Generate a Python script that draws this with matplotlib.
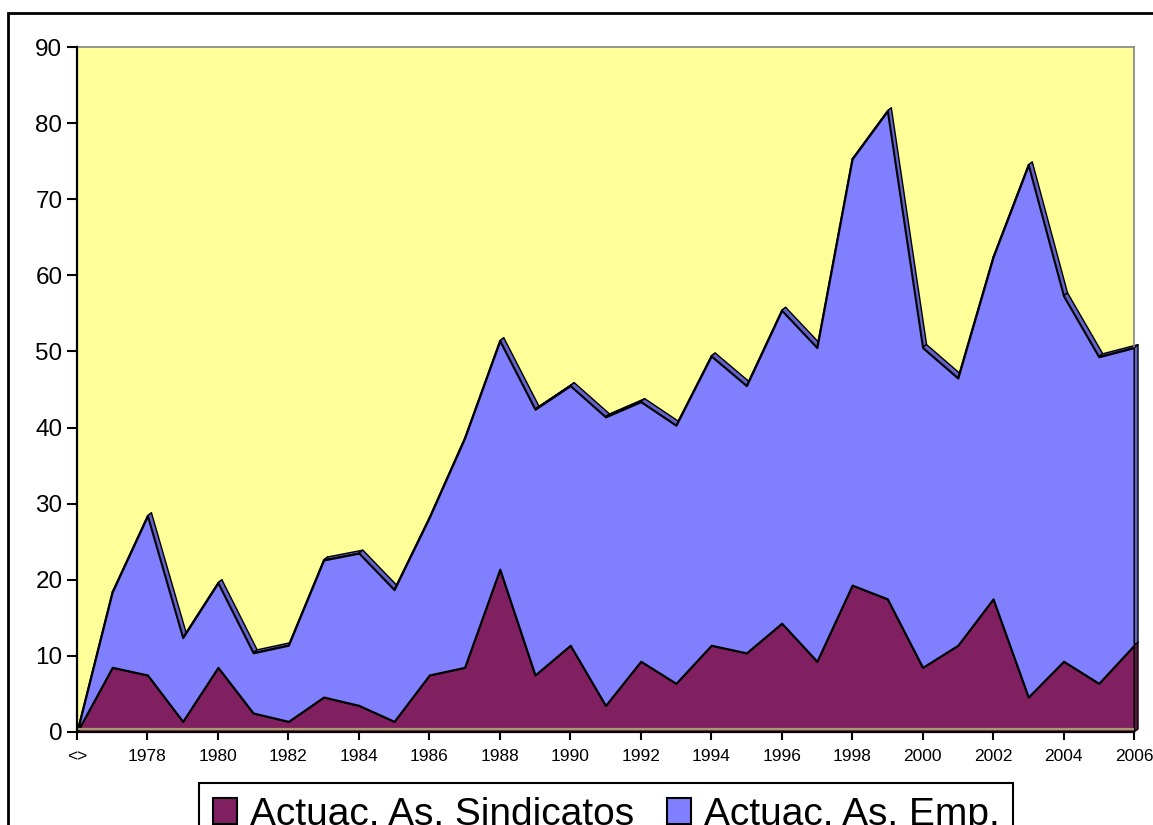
import numpy as np
import matplotlib
matplotlib.use('Agg')
import matplotlib.pyplot as plt
from matplotlib.patches import Polygon, Rectangle, Patch

plt.rcParams['font.family'] = ['Liberation Sans', 'DejaVu Sans']

cats = ['<>'] + [str(y) for y in range(1977, 2007)]
sindicatos = [0, 8.5, 7.5, 1.4, 8.5, 2.5, 1.4, 4.6, 3.5, 1.4, 7.5, 8.5, 21.4, 7.5, 11.4,
              3.5, 9.3, 6.4, 11.4, 10.4, 14.3, 9.3, 19.3, 17.5, 8.5, 11.4, 17.5, 4.6, 9.3, 6.4, 11.4]
empresarios = [0, 9.9, 20.9, 11.0, 11.1, 7.9, 10.0, 18.0, 20.0, 17.3, 20.7, 30.1, 30.0, 34.9, 34.1,
               37.9, 34.1, 33.9, 38.0, 35.1, 41.1, 41.2, 56.0, 64.1, 42.0, 35.1, 44.9, 69.9, 48.0, 42.9, 39.1]
labels = ['Actuac. As. Sindicatos', 'Actuac. As. Emp.']

front_cols = ['#802060', '#8080FF']
side_cols = ['#5C1545', '#6262C8']

W, H = 1153, 825
fig = plt.figure(figsize=(W / 100, H / 100), dpi=100)
ax = fig.add_axes([77 / W, 1 - 732 / H, (1134 - 77) / W, (732 - 47) / H])

x = np.arange(len(cats))
n = len(x) - 1
ax.set_xlim(0, n)
ax.set_ylim(0, 90)
ax.set_facecolor('#FFFF99')

# depth offset (in data units, ~4px right, ~3px up)
DX = n / (1134 - 77) * 4
DY = 90 / (732 - 47) * 3

s1 = np.array(sindicatos)
s2 = s1 + np.array(empresarios)
layers = [(np.zeros_like(s1), s1), (s1, s2)]

for (bot, top), sc in zip(layers, side_cols):
    for i in range(n):
        quad = [(x[i], top[i]), (x[i + 1], top[i + 1]),
                (x[i + 1] + DX, top[i + 1] + DY), (x[i] + DX, top[i] + DY)]
        ax.add_patch(Polygon(quad, closed=True, facecolor=sc, edgecolor='black',
                             lw=1.0, zorder=2, clip_on=False, joinstyle='round'))
    side = [(x[-1], bot[-1]), (x[-1], top[-1]), (x[-1] + DX, top[-1] + DY),
            (x[-1] + DX, bot[-1] + DY)]
    ax.add_patch(Polygon(side, closed=True, facecolor=sc, edgecolor='black',
                         lw=1.0, zorder=2, clip_on=False))

for (bot, top), fc in zip(layers, front_cols):
    ax.fill_between(x, bot, top, facecolor=fc, edgecolor='black', lw=1.5,
                    zorder=3, joinstyle='round')

ax.plot([0, n], [0.35, 0.35], color='#A89A6A', lw=1.6, zorder=4, solid_capstyle='butt')

for sp in ['top', 'right']:
    ax.spines[sp].set_color('#8C8C8C')
    ax.spines[sp].set_linewidth(1.3)
for sp in ['left', 'bottom']:
    ax.spines[sp].set_color('black')
    ax.spines[sp].set_linewidth(1.6)
    ax.spines[sp].set_zorder(5)

ax.set_xticks(x[::2])
ax.set_xticklabels(cats[::2], fontsize=12.5)
ax.set_yticks(np.arange(0, 91, 10))
ax.tick_params(axis='y', labelsize=17.5, length=7, width=1.5, pad=3.5)
ax.tick_params(axis='x', length=6, width=1.5, pad=6.5)

handles = [Patch(facecolor=c, edgecolor='black', lw=1.5) for c in front_cols]
leg = fig.legend(handles, labels, loc='upper center',
                 bbox_to_anchor=(606 / W, 1 - 783 / H), ncol=2, frameon=True,
                 fancybox=False, edgecolor='black', framealpha=1, fontsize=28,
                 handlelength=0.62, handleheight=0.62, handletextpad=0.33,
                 columnspacing=0.85, borderpad=0.35, borderaxespad=0)
leg.get_frame().set_linewidth(1.5)

fig.patches.append(Rectangle((8 / W, -0.1), 1.2, (1 - 13 / H) + 0.1,
                             transform=fig.transFigure, fill=False,
                             edgecolor='black', lw=2, clip_on=False))

fig.savefig('out.png', dpi=100, facecolor='white')
